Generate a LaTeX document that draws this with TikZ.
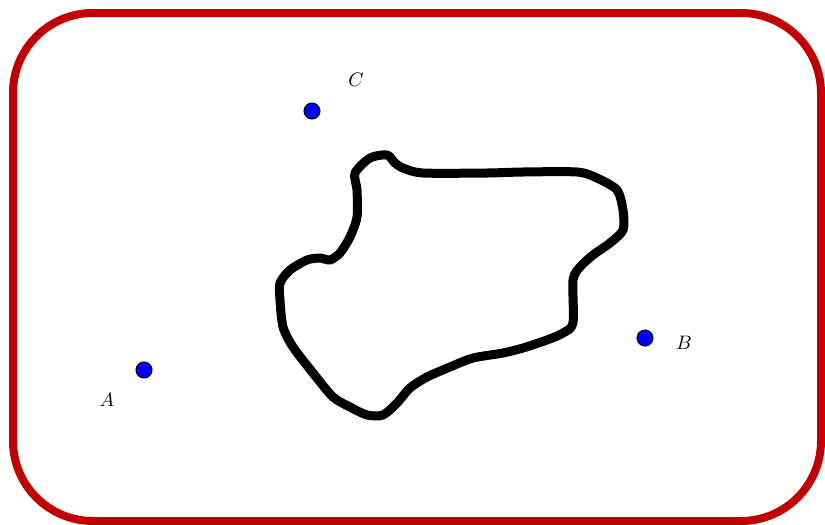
\documentclass[tikz,border=0pt]{standalone}
\usepackage{graphicx}
\usetikzlibrary{calc}
\definecolor{frame}{RGB}{192,0,0}
\newcommand{\biglbl}[1]{\scalebox{1.95}{$#1$}}
\begin{document}
\begin{tikzpicture}[x=1pt,y=-1pt,
  pt/.style={circle,fill=blue,draw=black,line width=1pt,inner sep=0pt,minimum size=16pt},
  lbl/.style={inner sep=0pt}]
\useasboundingbox (0,0) rectangle (825,525);
\draw[frame,line width=8pt,rounded corners=80pt] (13,13) rectangle (821,521);
\draw[line width=9pt,line join=round] plot[smooth cycle,tension=0.45] coordinates {
(355,173) (370,158) (387,155) (395,163) (403,168) (423,173) (487,173) (523,172)
(577,172) (597,178) (617,190) (623,210) (623,230) (610,243) (593,255) (580,267)
(573,280) (573,323) (563,333) (547,340) (523,348) (503,353) (473,358) (450,367)
(427,377) (410,388) (397,403) (383,415) (367,415) (350,407) (333,397) (313,373)
(293,347) (283,327) (280,300) (280,283) (290,270) (307,260) (320,258) (330,260)
(340,253) (350,237) (357,217) (357,190)};
\node[pt] (A) at (144,370) {};
\node[pt] (B) at (645,338) {};
\node[pt] (C) at (312,111) {};
\node[lbl] (lA) at (107,400) {\biglbl{A}};
\node[lbl] (lB) at (684,343) {\biglbl{B}};
\node[lbl] (lC) at (356,80) {\biglbl{C}};
\end{tikzpicture}
\end{document}
